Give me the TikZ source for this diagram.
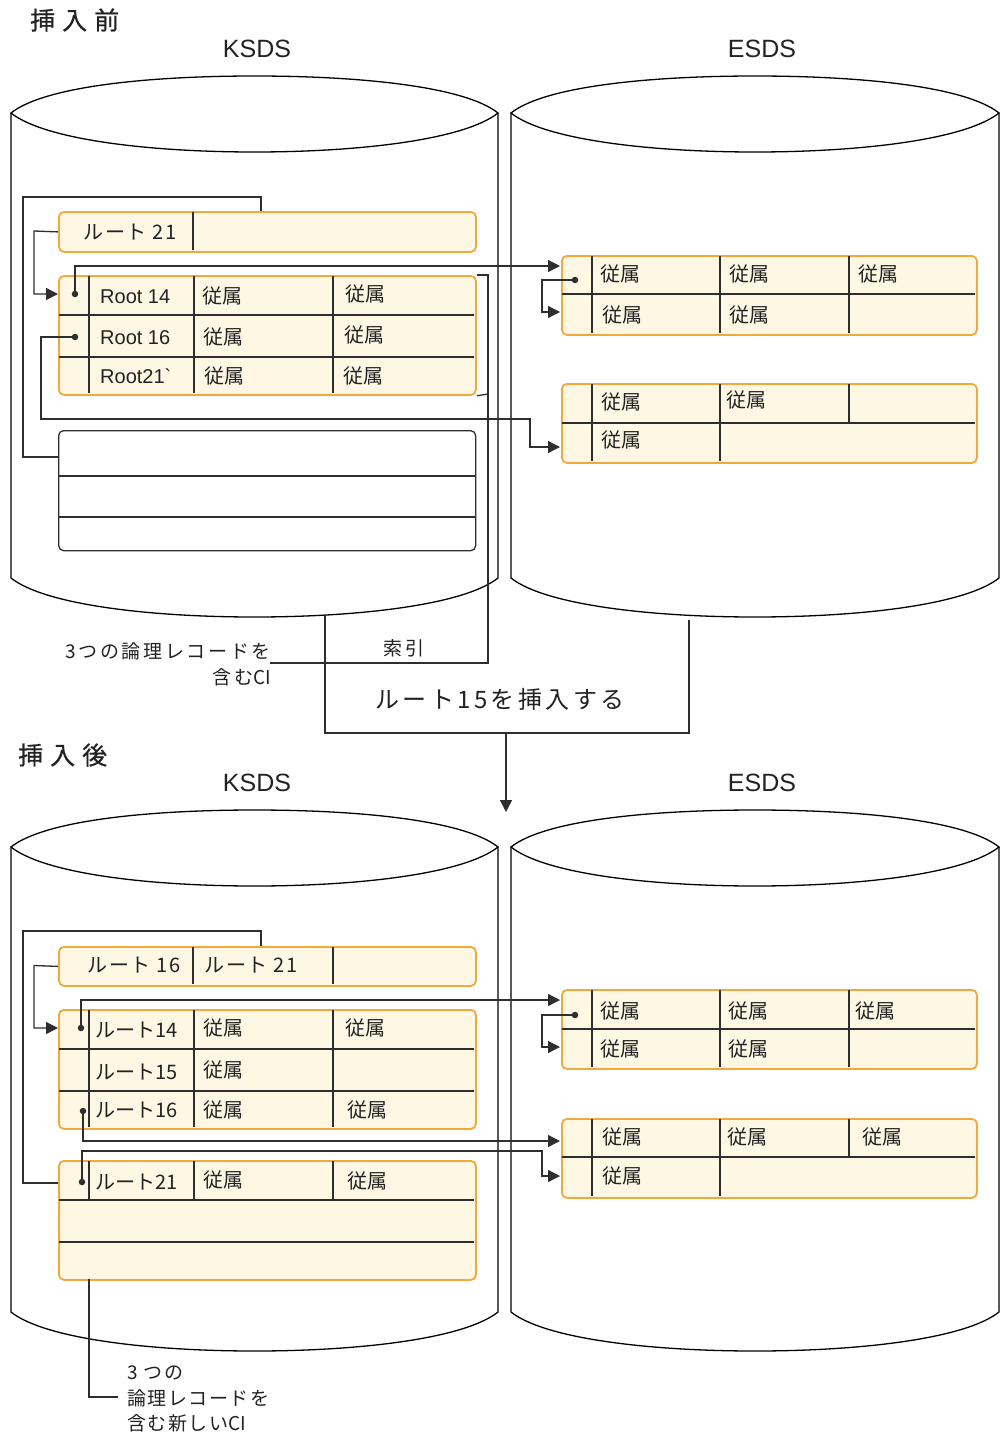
\documentclass[tikz,border=0pt]{standalone}
\usepackage{fontspec}
\setmainfont{Noto Sans CJK JP}
\newfontfamily\lat{Liberation Sans}
\newfontfamily\jpa{Noto Sans CJK JP}[LetterSpace=8]
\newfontfamily\jpb{Noto Sans CJK JP}[LetterSpace=14]
\newfontfamily\jpc{Noto Sans CJK JP}[LetterSpace=28, FakeBold=0.6]
\usetikzlibrary{arrows.meta}
\definecolor{ob}{HTML}{F2A93B}
\definecolor{of}{HTML}{FDF7E4}
\definecolor{ln}{HTML}{2E2E2E}
\definecolor{tx}{HTML}{222222}
\newcommand\mycyl[2]{%
 \pgfmathsetmacro\cyM{(#1+#2)/2}%
 \pgfmathsetmacro\cyA{#1+34}\pgfmathsetmacro\cyB{#1+140}%
 \pgfmathsetmacro\cyC{#2-140}\pgfmathsetmacro\cyD{#2-34}%
 \draw[cyl] (#1,113) .. controls (\cyA,86) and (\cyB,76) .. (\cyM,76) .. controls (\cyC,76) and (\cyD,86) .. (#2,113)
   .. controls (\cyD,140) and (\cyC,152) .. (\cyM,152) .. controls (\cyB,152) and (\cyA,140) .. (#1,113) -- cycle;
 \draw[cyl] (#1,113) -- (#1,578) .. controls (\cyA,605) and (\cyB,617) .. (\cyM,617) .. controls (\cyC,617) and (\cyD,605) .. (#2,578) -- (#2,113);
}
\tikzset{
 cyl/.style={draw=black, line width=1.3pt},
 cibox/.style={draw=ob, fill=of, line width=1.8pt, rounded corners=5pt, inner sep=0, anchor=north west},
 emptybox/.style={draw=ln, fill=white, line width=1.3pt, rounded corners=5pt, inner sep=0, anchor=north west},
 grid/.style={draw=ln, line width=1.4pt},
 conn/.style={draw=ln, line width=1.3pt},
 arr/.style={conn, -{Triangle[length=12pt,width=12pt]}},
 dotst/.style={circle, fill=ln, inner sep=0, minimum size=6.5pt},
 jt/.style={inner sep=0, anchor=west, text=tx, font=\fontsize{20}{24}\selectfont},
 lt/.style={inner sep=0, anchor=west, text=tx, font=\lat\fontsize{20}{24}\selectfont},
 title/.style={inner sep=0, anchor=west, text=tx, font=\jpc\fontsize{25}{29}\selectfont},
 head/.style={inner sep=0, text=tx, font=\lat\fontsize{25}{30}\selectfont},
 small/.style={inner sep=0, text=tx, font=\jpb\fontsize{19}{23}\selectfont},
 smalla/.style={inner sep=0, anchor=west, text=tx, font=\jpa\fontsize{19}{23}\selectfont},
}
\begin{document}
\begin{tikzpicture}[x=1pt,y=-1pt]
\useasboundingbox[fill=white] (0,0) rectangle (1005,1437);

% ---------- cylinders ----------
\mycyl{11}{498}
\mycyl{511}{999}
\begin{scope}[shift={(0,734)}]
\mycyl{11}{498}
\mycyl{511}{999}
\end{scope}

% ---------- headings ----------
\node[title] (tBefore) at (30,20) {挿入前};
\node[head] (hK1) at (257,49) {KSDS};
\node[head] (hE1) at (762,49) {ESDS};
\node[title] (tAfter) at (18,755) {挿入後};
\node[head] (hK2) at (257,783) {KSDS};
\node[head] (hE2) at (762,783) {ESDS};

% ================= BEFORE =================
% KSDS index
\node[cibox, minimum width=417pt, minimum height=40pt] (ixA) at (58,211) {};
\draw[grid] (193,212) -- (193,250);
\node[jt, font=\jpa\fontsize{20}{24}\selectfont, anchor=center] (ixAt) at (130,232) {ルート 21};

% KSDS data CI
\node[cibox, minimum width=417pt, minimum height=119pt] (ciA) at (58,275) {};
\draw[grid] (59,315) -- (474,315) (59,357) -- (474,357);
\draw[grid] (89,276) -- (89,393) (194,276) -- (194,393) (333,276) -- (333,393);
\node[lt] (rA1) at (100,297) {Root 14};
\node[lt] (rA2) at (100,338) {Root 16};
\node[lt] (rA3) at (100,376) {Root21\textasciigrave};
\node[jt] (sA1) at (202,296) {従属};
\node[jt] (sA2) at (345,294) {従属};
\node[jt] (sA3) at (203,337) {従属};
\node[jt] (sA4) at (344,335) {従属};
\node[jt] (sA5) at (204,376) {従属};
\node[jt] (sA6) at (343,376) {従属};

% KSDS empty CI
\node[emptybox, minimum width=417pt, minimum height=120pt] (emA) at (58,430) {};
\draw[grid] (58,476) -- (475,476) (58,517) -- (475,517);

% ESDS CIs
\node[cibox, minimum width=415pt, minimum height=79pt] (esA1) at (561,255) {};
\draw[grid] (562,294) -- (975,294);
\draw[grid] (592,256) -- (592,333) (720,256) -- (720,333) (849,256) -- (849,333);
\node[jt] (eA1) at (600,274) {従属};
\node[jt] (eA2) at (729,274) {従属};
\node[jt] (eA3) at (858,274) {従属};
\node[jt] (eA4) at (602,315) {従属};
\node[jt] (eA5) at (729,315) {従属};

\node[cibox, minimum width=415pt, minimum height=79pt] (esA2) at (561,383) {};
\draw[grid] (562,423) -- (975,423);
\draw[grid] (592,384) -- (592,461) (720,384) -- (720,461) (849,384) -- (849,423);
\node[jt] (eA6) at (601,402) {従属};
\node[jt] (eA7) at (726,400) {従属};
\node[jt] (eA8) at (601,440) {従属};

% connectors before
\coordinate (brA) at (261,211);
\coordinate (brAe) at (58,457);
\draw[conn] (brA) -- (261,197) -- (23,197) -- (23,457) -- (brAe);
\coordinate (inA) at (58,294);
\draw[arr] (ixA.west) -- (34,231) |- (inA);
\node[dotst] (dA1) at (75,294) {};
\coordinate (esA1in) at (560,266);
\draw[arr] (dA1.center) |- (esA1in);
\node[dotst] (dA2) at (75,337) {};
\coordinate (esA2in) at (560,447);
\draw[arr] (dA2.center) -- (41,337) |- (530,419) |- (esA2in);
\node[dotst] (dE1) at (575,280) {};
\coordinate (esA1in2) at (560,312);
\draw[arr] (dE1.center) -- (542,280) |- (esA1in2);
\coordinate (lblAend) at (270,663);
\draw[conn] (ciA.north east) -- (488,275) -- (488,663) -- (lblAend);
\draw[conn] (488,394) -- (ciA.south east);

% middle labels
\node[small, anchor=east] (lA1) at (271,651) {3つの論理レコードを};
\node[small, anchor=east] (lA2) at (271,677) {含む{\rmfamily CI}};
\node[small] (idxl) at (404,648) {索引};
\node[inner sep=0, text=tx, font=\jpb\fontsize{24}{28}\selectfont] (insl) at (500,699) {ルート15を挿入する};
\coordinate (mbL) at (325,615);
\coordinate (mbR) at (689,620);
\draw[conn] (mbL) -- (325,733) -- (689,733) -- (mbR);
\coordinate (arS) at (506,733);
\coordinate (arE) at (506,812);
\draw[arr] (arS) -- (arE);

% ================= AFTER =================
\node[cibox, minimum width=417pt, minimum height=39pt] (ixB) at (58,946) {};
\draw[grid] (193,947) -- (193,984) (333,947) -- (333,984);
\node[jt, font=\jpa\fontsize{20}{24}\selectfont, anchor=center] (ixBt1) at (134,965) {ルート 16};
\node[jt, font=\jpa\fontsize{20}{24}\selectfont, anchor=center] (ixBt2) at (251,965) {ルート 21};

\node[cibox, minimum width=417pt, minimum height=119pt] (ciB1) at (58,1009) {};
\draw[grid] (59,1049) -- (474,1049) (59,1091) -- (474,1091);
\draw[grid] (89,1010) -- (89,1127) (194,1010) -- (194,1127) (333,1010) -- (333,1127);
\node[jt] (rB1) at (95,1030) {ルート14};
\node[jt] (rB2) at (95,1072) {ルート15};
\node[jt] (rB3) at (95,1110) {ルート16};
\node[jt] (sB1) at (203,1028) {従属};
\node[jt] (sB2) at (345,1028) {従属};
\node[jt] (sB3) at (203,1070) {従属};
\node[jt] (sB4) at (203,1110) {従属};
\node[jt] (sB5) at (347,1110) {従属};

\node[cibox, minimum width=417pt, minimum height=119pt] (ciB2) at (58,1160) {};
\draw[grid] (59,1200) -- (474,1200) (59,1242) -- (474,1242);
\draw[grid] (89,1161) -- (89,1200) (194,1161) -- (194,1200) (333,1161) -- (333,1200);
\node[jt] (rB4) at (95,1182) {ルート21};
\node[jt] (sB6) at (203,1180) {従属};
\node[jt] (sB7) at (347,1181) {従属};

\node[cibox, minimum width=415pt, minimum height=79pt] (esB1) at (561,989) {};
\draw[grid] (562,1029) -- (975,1029);
\draw[grid] (592,990) -- (592,1067) (720,990) -- (720,1067) (849,990) -- (849,1067);
\node[jt] (eB1) at (600,1011) {従属};
\node[jt] (eB2) at (728,1011) {従属};
\node[jt] (eB3) at (855,1011) {従属};
\node[jt] (eB4) at (600,1049) {従属};
\node[jt] (eB5) at (728,1049) {従属};

\node[cibox, minimum width=415pt, minimum height=79pt] (esB2) at (561,1118) {};
\draw[grid] (562,1157) -- (975,1157);
\draw[grid] (592,1119) -- (592,1196) (720,1119) -- (720,1196) (849,1119) -- (849,1157);
\node[jt] (eB6) at (602,1137) {従属};
\node[jt] (eB7) at (727,1137) {従属};
\node[jt] (eB8) at (862,1137) {従属};
\node[jt] (eB9) at (602,1176) {従属};

% connectors after
\coordinate (brB) at (261,946);
\coordinate (brBe) at (58,1183);
\draw[conn] (brB) -- (261,931) -- (23,931) -- (23,1183) -- (brBe);
\coordinate (inB) at (58,1028);
\draw[arr] (ixB.west) -- (34,965.5) |- (inB);
\node[dotst] (dB1) at (81,1028) {};
\coordinate (esB1in) at (560,1000);
\draw[arr] (dB1.center) |- (esB1in);
\node[dotst] (dB2) at (83,1111) {};
\coordinate (esB2in) at (560,1141);
\draw[arr] (dB2.center) |- (esB2in);
\node[dotst] (dB3) at (82,1182) {};
\coordinate (esB2in2) at (560,1176);
\draw[arr] (dB3.center) |- (542,1151) |- (esB2in2);
\node[dotst] (dE2) at (575,1015) {};
\coordinate (esB1in2) at (560,1047);
\draw[arr] (dE2.center) -- (542,1015) |- (esB1in2);

% bottom label
\coordinate (lbS) at (89,1279);
\coordinate (lbE) at (118,1397);
\draw[conn] (lbS) |- (lbE);
\node[smalla] (lB1) at (127,1373) {3 つの};
\node[smalla] (lB2) at (127,1398) {論理レコードを};
\node[smalla] (lB3) at (127,1423) {含む新しい{\rmfamily CI}};
\end{tikzpicture}
\end{document}
